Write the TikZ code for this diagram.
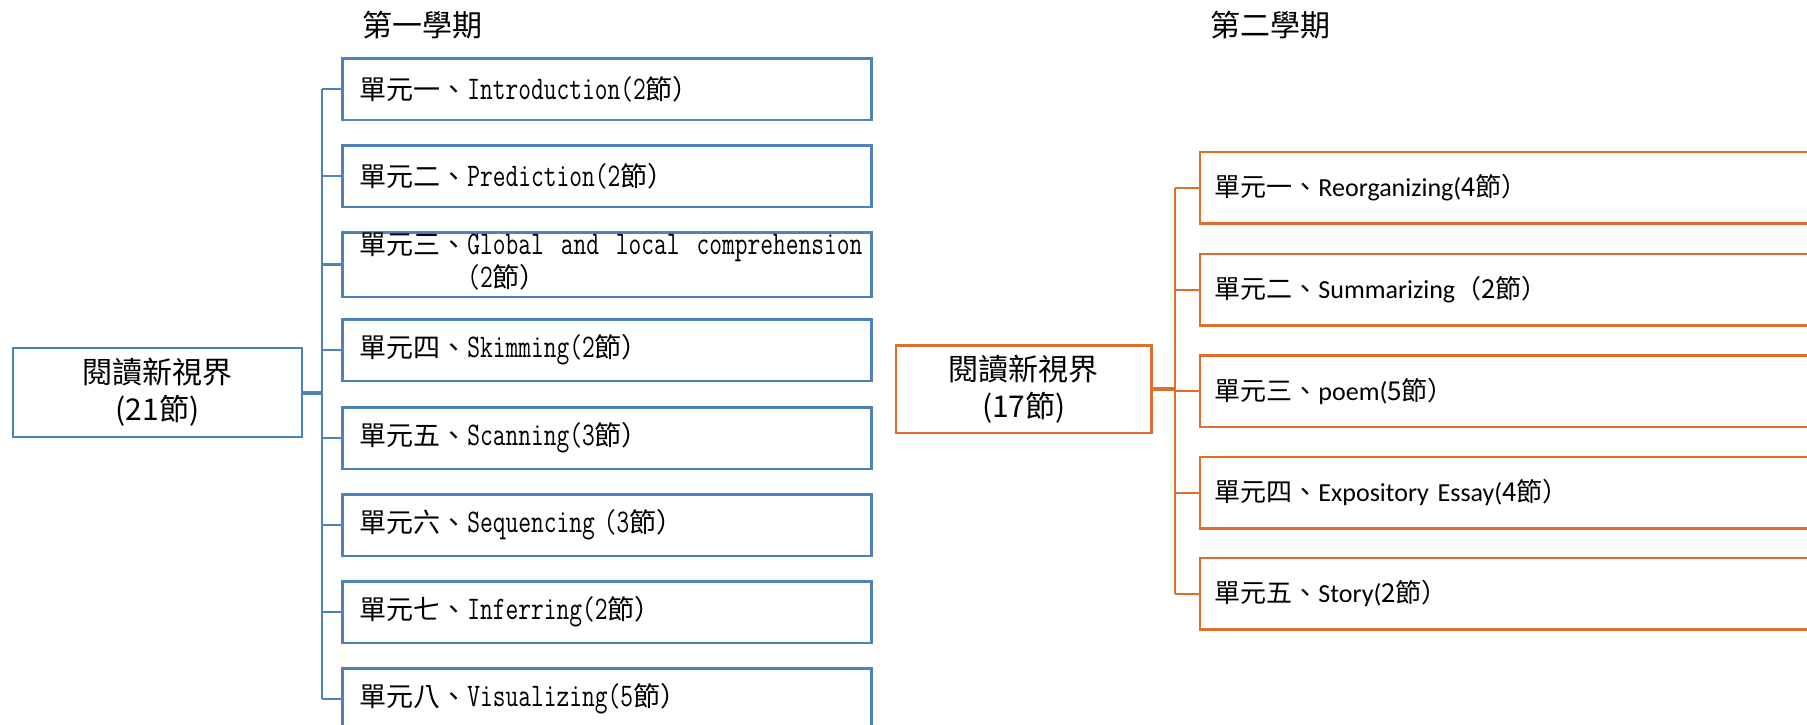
\documentclass[tikz,border=0pt]{standalone}
\usepackage{fontspec}
\newfontfamily\cjk{Noto Sans CJK TC}
\newfontfamily\calfont{Carlito}
\newfontfamily\latn[FakeStretch=0.75]{Latin Modern Mono}
\newcommand\zh[1]{{\cjk #1}}
\newcommand\mo[1]{{\fontsize{33}{32}\selectfont\latn #1}}
\definecolor{bl}{RGB}{79,129,189}
\definecolor{orng}{RGB}{220,112,45}
\tikzset{
  heading/.style={font=\fontsize{30}{36}\selectfont\cjk, inner sep=0pt},
  rootbox/.style={draw=#1, line width=2.7pt, align=center, inner sep=0pt,
    font=\fontsize{30}{37}\selectfont\cjk},
  leafL/.style={draw=bl, line width=2.7pt, anchor=north west,
    minimum width=529.3pt, minimum height=61.5pt, text width=495.3pt,
    inner xsep=17pt, inner ysep=0pt, align=left,
    font=\fontsize{27}{32}\selectfont\cjk},
  leafR/.style={draw=orng, line width=2.7pt, anchor=north west,
    minimum width=700pt, minimum height=71.5pt, text width=671pt,
    inner xsep=14.5pt, inner ysep=0pt, align=left,
    font=\fontsize{26}{32}\selectfont\calfont},
  connL/.style={draw=bl, line width=2.7pt},
  connR/.style={draw=orng, line width=2.5pt},
}
\begin{document}
\begin{tikzpicture}[x=1pt,y=-1pt]
\useasboundingbox (0,0) rectangle (1807,725);
\clip (0,0) rectangle (1807,725);
\fill[white] (0,0) rectangle (1807,725);

% headings
\node[heading] (H1) at (422,25) {第一學期};
\node[heading] (H2) at (1270,25) {第二學期};

% ---------- first semester ----------
\node[rootbox=bl, minimum width=289pt, minimum height=89pt] (RL) at (157.5,392.5) {閱讀新視界\\(21節)};

\node[leafL] (L1) at (341,57)  {單元一、\mo{Introduction(2}節）};
\node[leafL] (L2) at (341,144) {單元二、\mo{Prediction(2}節）};
\node[leafL] (L3) at (341,231) {\raisebox{5pt}{\begin{tabular}{@{}l@{}}\makebox[503pt][l]{單元三、\mo{Global \hfill and \hfill local \hfill comprehension}}\\\phantom{單元三、}\mo{(2}節）\end{tabular}}};
\node[leafL] (L4) at (341,318) {單元四、\mo{Skimming(2}節）};
\node[leafL] (L5) at (341,406) {單元五、\mo{Scanning(3}節）};
\node[leafL] (L6) at (341,493) {單元六、\mo{Sequencing (3}節）};
\node[leafL] (L7) at (341,580) {單元七、\mo{Inferring(2}節）};
\node[leafL] (L8) at (341,667) {單元八、\mo{Visualizing(5}節）};

\coordinate (TL) at (322,0);
\draw[connL] (L1.west -| TL) -- (L8.west -| TL);
\foreach \n in {L1,L2,L3,L4,L5,L6,L7,L8}
  \draw[connL] (\n.west -| TL) -- (\n.west);
\draw[connL, line width=4pt] (RL.east) -- (RL.east -| TL);

% ---------- second semester ----------
\node[rootbox=orng, minimum width=255.6pt, minimum height=87.3pt] (RR) at (1023.8,389.4) {閱讀新視界\\(17節)};

\node[leafR] (R1) at (1198.6,150.7) {\zh{單元一、}Reorganizing(\zh{4節）}};
\node[leafR] (R2) at (1198.6,252.7) {\zh{單元二、}Summarizing\zh{（2節）}};
\node[leafR] (R3) at (1198.6,354)   {\zh{單元三、}poem(\zh{5節）}};
\node[leafR] (R4) at (1198.6,455.7) {\zh{單元四、}Expository Essay(\zh{4節）}};
\node[leafR] (R5) at (1198.6,556.7) {\zh{單元五、}Story(\zh{2節）}};

\coordinate (TR) at (1175,0);
\draw[connR] (R1.west -| TR) -- (R5.west -| TR);
\foreach \n in {R1,R2,R3,R4,R5}
  \draw[connR] (\n.west -| TR) -- (\n.west);
\draw[connR, line width=4pt] (RR.east) -- (RR.east -| TR);
\end{tikzpicture}
\end{document}
